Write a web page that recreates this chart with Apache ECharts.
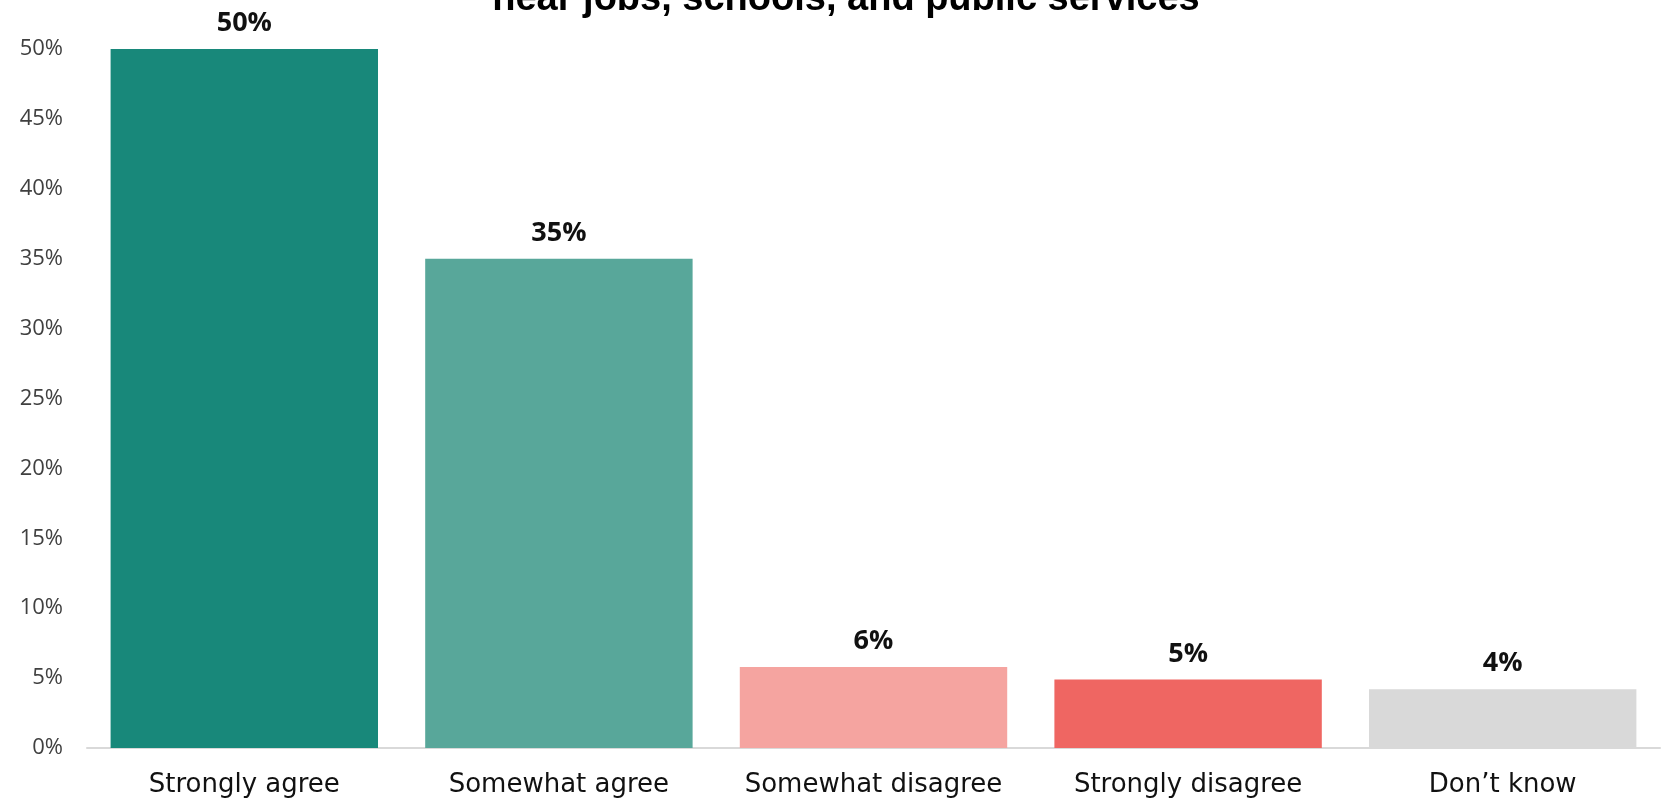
<!DOCTYPE html>
<html>
<head>
<meta charset="utf-8">
<script src="https://cdn.jsdelivr.net/npm/echarts@6/dist/echarts.min.js"></script>
<style>
html,body{margin:0;padding:0;background:#fff;}
#chart{width:1666px;height:799px;}
</style>
</head>
<body>
<div id="chart"></div>
<script>
const titleText = 'near jobs, schools, and public services';
const categories = ['Strongly agree', 'Somewhat agree', 'Somewhat disagree', 'Strongly disagree', 'Don\u2019t know'];
const values = [50, 35, 5.8, 4.9, 4.2];
const barColors = ['#18887A', '#58A79A', '#F5A4A0', '#EF6662', '#D9D9D9'];
const yTicks = [0, 5, 10, 15, 20, 25, 30, 35, 40, 45, 50];

const chart = echarts.init(document.getElementById('chart'), null, {renderer: 'canvas'});
chart.setOption({
  animation: false,
  backgroundColor: '#ffffff',
  graphic: [{
    type: 'text',
    x: 846, y: 0,
    style: {
      text: titleText,
      font: 'bold 38px "Liberation Sans", Arial, sans-serif',
      fill: '#000000',
      textAlign: 'center',
      textVerticalAlign: 'middle'
    }
  }],
  grid: {left: 87, right: 6, top: 49, bottom: 51, containLabel: false},
  xAxis: {
    type: 'category',
    data: categories,
    axisLine: {show: true, lineStyle: {color: '#D9D9D9', width: 2}},
    axisTick: {show: false},
    axisLabel: {
      margin: 24,
      fontFamily: '"DejaVu Sans", sans-serif',
      fontSize: 26,
      color: '#111111',
      interval: 0
    }
  },
  yAxis: {
    type: 'value',
    min: yTicks[0],
    max: yTicks[yTicks.length - 1],
    interval: 5,
    splitLine: {show: false},
    axisLine: {show: false},
    axisTick: {show: false},
    axisLabel: {
      margin: 24,
      fontFamily: '"Open Sans", sans-serif',
      fontSize: 22,
      color: '#404040',
      formatter: v => v + '%'
    }
  },
  series: [{
    type: 'bar',
    barWidth: '85%',
    data: values.map((v, i) => ({value: v, itemStyle: {color: barColors[i]}})),
    label: {
      show: true,
      position: 'top',
      distance: 12,
      fontFamily: '"Open Sans", sans-serif',
      fontWeight: 'bold',
      fontSize: 27,
      color: '#111111',
      formatter: p => Math.round(p.value) + '%'
    }
  }]
});
</script>
</body>
</html>
